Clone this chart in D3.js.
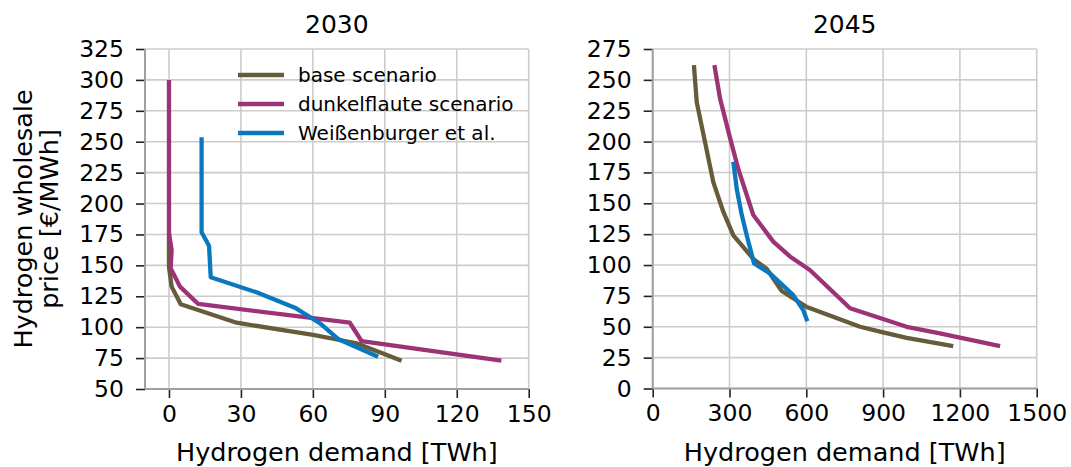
<!DOCTYPE html>
<html>
<head>
<meta charset="utf-8">
<script src="https://cdn.jsdelivr.net/npm/d3@7"></script>
<style>
  html, body { margin: 0; padding: 0; background: #fff; }
  svg { display: block; font-family: "DejaVu Sans", sans-serif; }
</style>
</head>
<body>
<svg id="chart" width="1071" height="467"></svg>
<script>
// Hydrogen demand [TWh] vs. wholesale price [€/MWh], 2030
const base2030Demand = [0, 0, 1.1, 4.9, 28.2, 60.1, 78.2, 97];
const base2030Price  = [176, 149, 132.8, 118.5, 103.6, 93.7, 87, 72.9];
const dunkel2030Demand = [0, 0, 1.1, 0.7, 4.6, 12.2, 75.4, 80.3, 138.6];
const dunkel2030Price  = [300, 176, 162.5, 147.6, 132.8, 118.8, 103.6, 88.8, 72.9];
const weiss2030Demand = [13.6, 13.6, 16.7, 17.4, 36.5, 52.5, 62.9, 70.5, 87.2];
const weiss2030Price  = [253.6, 176.8, 165.9, 140.4, 128.2, 115.8, 103.2, 90.5, 76.1];

// 2045
const base2045Demand = [161, 172, 204, 237, 276, 315, 393, 445, 504, 602, 810, 888, 992, 1174];
const base2045Price  = [262, 232, 200, 167, 143, 124, 105, 97, 79, 66, 50, 46, 41, 34.3];
const dunkel2045Demand = [241, 263, 302, 334, 393, 471, 536, 614, 771, 992, 1122, 1357];
const dunkel2045Price  = [262, 235, 203, 178, 140.5, 119, 107, 96, 65, 50, 44.6, 34.3];
const weiss2045Demand = [315, 328, 348, 367, 396, 458, 549, 588, 604];
const weiss2045Price  = [183.7, 162, 140.5, 124.3, 101.3, 93.2, 75.6, 63.5, 54.5];

const seriesNames = ["base scenario", "dunkelflaute scenario", "Weißenburger et al."];
const seriesColors = ["#675b3c", "#9b3376", "#0a78bf"];

const panelTitles = ["2030", "2045"];
const xTicks2030 = [0, 30, 60, 90, 120, 150];
const yTicks2030 = [50, 75, 100, 125, 150, 175, 200, 225, 250, 275, 300, 325];
const xTicks2045 = [0, 300, 600, 900, 1200, 1500];
const yTicks2045 = [0, 25, 50, 75, 100, 125, 150, 175, 200, 225, 250, 275];

const svg = d3.select("#chart");

const zip = (xs, ys) => xs.map((x, i) => [x, ys[i]]);

const panels = [
  {
    title: panelTitles[0],
    left: 145, right: 528.7, top: 49, bottom: 389,
    xDomain: [-10, 150], yDomain: [50, 325],
    xTicks: xTicks2030, yTicks: yTicks2030,
    series: [zip(base2030Demand, base2030Price), zip(dunkel2030Demand, dunkel2030Price), zip(weiss2030Demand, weiss2030Price)],
    legend: true
  },
  {
    title: panelTitles[1],
    left: 652.7, right: 1036.7, top: 49, bottom: 388.5,
    xDomain: [0, 1500], yDomain: [0, 275],
    xTicks: xTicks2045, yTicks: yTicks2045,
    series: [zip(base2045Demand, base2045Price), zip(dunkel2045Demand, dunkel2045Price), zip(weiss2045Demand, weiss2045Price)],
    legend: false
  }
];

panels.forEach(p => {
  const x = d3.scaleLinear().domain(p.xDomain).range([p.left, p.right]);
  const y = d3.scaleLinear().domain(p.yDomain).range([p.bottom, p.top]);
  const g = svg.append("g");

  // grid
  g.append("g").selectAll("line.v").data(p.xTicks).join("line")
    .attr("x1", d => x(d)).attr("x2", d => x(d))
    .attr("y1", p.top).attr("y2", p.bottom)
    .attr("stroke", "#cccccc").attr("stroke-width", 1.6);
  g.append("g").selectAll("line.h").data(p.yTicks).join("line")
    .attr("x1", p.left).attr("x2", p.right)
    .attr("y1", d => y(d)).attr("y2", d => y(d))
    .attr("stroke", "#cccccc").attr("stroke-width", 1.6);

  // axes
  const xAxis = g.append("g").attr("transform", `translate(0,${p.bottom})`)
    .call(d3.axisBottom(x).tickValues(p.xTicks).tickFormat(d3.format("d")).tickSize(9).tickPadding(7));
  const yAxis = g.append("g").attr("transform", `translate(${p.left},0)`)
    .call(d3.axisLeft(y).tickValues(p.yTicks).tickFormat(d3.format("d")).tickSize(9).tickPadding(12));
  [xAxis, yAxis].forEach(a => {
    a.select(".domain").remove();
    a.selectAll(".tick line").attr("stroke", "#222").attr("stroke-width", 1.6);
    a.selectAll(".tick text").attr("fill", "#000").style("font-size", "23.5px")
      .style("font-family", "DejaVu Sans, sans-serif");
  });

  // spines
  g.append("line").attr("x1", p.left).attr("x2", p.left).attr("y1", p.top).attr("y2", p.bottom)
    .attr("stroke", "#a0a0a0").attr("stroke-width", 2);
  g.append("line").attr("x1", p.left).attr("x2", p.right).attr("y1", p.bottom).attr("y2", p.bottom)
    .attr("stroke", "#a0a0a0").attr("stroke-width", 2);

  // series
  const line = d3.line().x(d => x(d[0])).y(d => y(d[1]));
  p.series.forEach((s, i) => {
    g.append("path").datum(s).attr("d", line)
      .attr("fill", "none").attr("stroke", seriesColors[i])
      .attr("stroke-width", 4.3).attr("stroke-linejoin", "round");
  });

  // title
  g.append("text").attr("x", (p.left + p.right) / 2).attr("y", 33)
    .attr("text-anchor", "middle").style("font-size", "25px").text(p.title);

  // x label
  g.append("text").attr("x", (p.left + p.right) / 2).attr("y", 461)
    .attr("text-anchor", "middle").style("font-size", "25.5px").text("Hydrogen demand [TWh]");

  if (p.legend) {
    const lg = g.append("g");
    seriesNames.forEach((name, i) => {
      const yy = 75 + i * 29;
      lg.append("line").attr("x1", 238).attr("x2", 284).attr("y1", yy).attr("y2", yy)
        .attr("stroke", seriesColors[i]).attr("stroke-width", 4.5);
      lg.append("text").attr("x", 298).attr("y", yy + 7)
        .style("font-size", "20px").text(name);
    });
  }
});

// y label (two lines)
const yl = svg.append("text").attr("transform", "translate(0,219) rotate(-90)")
  .attr("text-anchor", "middle").style("font-size", "25.5px");
yl.append("tspan").attr("x", 0).attr("y", 32).text("Hydrogen wholesale");
yl.append("tspan").attr("x", 0).attr("y", 58).text("price [€/MWh]");
</script>
</body>
</html>
